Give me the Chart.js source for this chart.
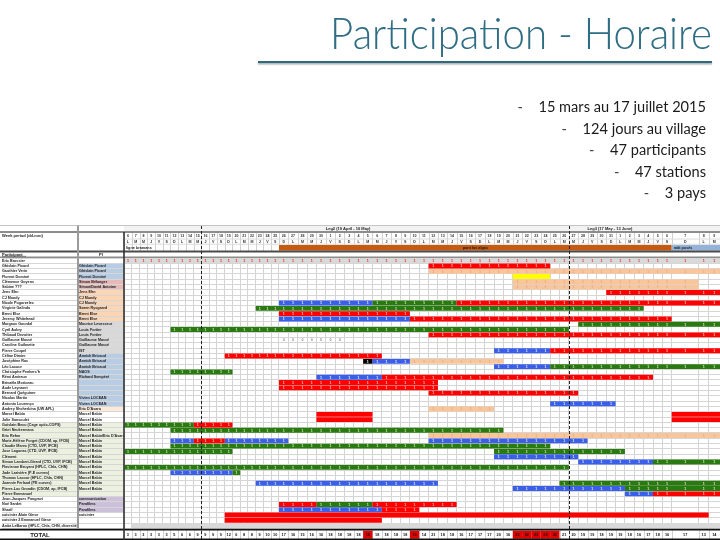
<!DOCTYPE html>
<html lang="fr">
<head>
<meta charset="utf-8">
<title>Participation - Horaire</title>
<script src="https://cdn.jsdelivr.net/npm/chart.js@4.4.1/dist/chart.umd.min.js"></script>
<style>
  html, body { margin: 0; padding: 0; background: #fff; }
  body { width: 720px; height: 540px; position: relative; overflow: hidden; font-family: Lato, "Open Sans", sans-serif; }
  #chart { position: absolute; left: 0; top: 0; }
  #title { position: absolute; right: 8px; top: 10px; font-size: 44px; line-height: 44px; font-weight: 300; color: #2f6d84; white-space: nowrap; transform-origin: right center; z-index: 2; }
  #rule { position: absolute; left: 258px; top: 61px; width: 454px; height: 2px; background: #2d6a80; box-shadow: 0 1.5px 1.5px rgba(0,0,0,0.35); z-index: 2; }
  .pt { position: absolute; right: 14px; font-size: 14.6px; line-height: 20px; color: #1b1b1b; white-space: nowrap; z-index: 2; }
  .pt span { display: inline-block; width: 21px; color: #444; }
</style>
</head>
<body>
<div id="title">Participation - Horaire</div>
<div id="rule"></div>
<div class="pt" style="top:97px"><span>-</span>15 mars au 17 juillet 2015</div>
<div class="pt" style="top:119px"><span>-</span>124 jours au village</div>
<div class="pt" style="top:140px"><span>-</span>47 participants</div>
<div class="pt" style="top:162px"><span>-</span>47 stations</div>
<div class="pt" style="top:183px"><span>-</span>3 pays</div>
<canvas id="chart" width="720" height="540"></canvas>
<script>
// ---- table rows ----
const names = [
  'Eric Brossier', 'Ghislain Picard', 'Gauthier Verin', 'Florent Dominé', 'Clémence Goyens',
  'Sabine ???', 'Jens Ehn', 'CJ Mundy', 'Nicole Pogorzelec', 'Virginie Galindo',
  'Brent Else', 'Jeremy Whitehead', 'Margaux Gourdal', 'Cyril Aubry', 'Thibaud Dezutter',
  'Guillaume Massé', 'Caroline Guilmette', 'Pierre Coupel', 'Céline Dimier', 'Joséphine Ras',
  'Léo Lacour', "Christophe Penkerc'h", 'Rémi Amiraux', 'Brivaëla Moriceau', 'Aude Leynaert',
  'Bernard Quéguiner', 'Nicolas Martin', 'Antonio Lourenço', 'Andrey Shcherbina (UW APL)', 'Marcel Babin',
  'Julie Sansoulet', 'Guislain Becu (Cage optic-COPS)', 'Griet Neukermans', 'Eric Rehm', 'Marie-Hélène Forget (CDOM, ap, IFCB)',
  'Claudie Marec (CTD, UVP, IFCB)', 'Jose Lagunas (CTD, UVP, IFCB)', 'Clément', 'Simon Lambert-Girard (CTD, UVP, IFCB)', 'Flavienne Bruyant (HPLC, Chla, CHN)',
  'Jade Larivière (P-E curves)', 'Thomas Lacour (HPLC, Chla, CHN)', 'Joannie Ferland (PE curves)', 'Pierre-Luc Grondin (CDOM, ap, IFCB)', 'Pierre Emmanuel',
  'Jean-Jacques Pangrazi', 'Noé Sardet', 'Sharif', 'cuisinier Alain Giese', 'cuisinier 2 Emmanuel Giese',
  'Anita LeBaron (HPLC, Chla, CHN, diversité)'
];
const piNames = [
  '', 'Ghislain Picard', 'Ghislain Picard', 'Florent Dominé', 'Simon Bélanger',
  'Simon/David Antoine', 'Jens Ehn', 'CJ Mundy', 'CJ Mundy', 'Søren Rysgaard',
  'Brent Else', 'Brent Else', 'Maurice Levasseur', 'Louis Fortier', 'Louis Fortier',
  'Guillaume Massé', 'Guillaume Massé', 'IST', 'Annick Bricaud', 'Annick Bricaud',
  'Annick Bricaud', 'NAOS', 'Richard Sempéré', '', '',
  '', 'Vivien LOCEAN', 'Vivien LOCEAN', "Eric D'Asaro", 'Marcel Babin',
  'Marcel Babin', 'Marcel Babin', 'Marcel Babin', "Marcel Babin/Eric D'Asaro", 'Marcel Babin',
  'Marcel Babin', 'Marcel Babin', 'Marcel Babin', 'Marcel Babin', 'Marcel Babin',
  'Marcel Babin', 'Marcel Babin', 'Marcel Babin', 'Marcel Babin', '',
  'communication', 'Parafilms', 'Parafilms', 'cuisinier', '',
  ''
];

// ---- day columns (6 avril -> 9 juin 2015) ----
const dayNums = [6,7,8,9,10,11,12,13,14,15,16,17,18,19,20,21,22,23,24,25,26,27,28,29,30,
  1,2,3,4,5,6,7,8,9,10,11,12,13,14,15,16,17,18,19,20,21,22,23,24,25,26,27,28,29,30,31,
  1,2,3,4,5,6,7,8,9];
const dayLetters = 'LMMJVSDLMMJVSDLMMJVSDLMMJVSDLMMJVSDLMMJVSDLMMJVSDLMMJVSDLMMJVSDLM'.split('');
const totals = [3,3,3,3,3,3,5,6,6,9,9,9,9,12,6,
  8,8,9,10,10,
  17,16,15,16,16,18,18,18,18,19,18,18,18,18,19,
  14,21,18,18,16,17,17,17,20,16,
  22,22,22,22,22,
  21,20,19,19,18,19,19,18,16,17,18,16,17,13,14];
const totalAlerts = ['05-05', '05-10', '05-21', '05-22', '05-23', '05-24', '05-25'];
const legs = [['Leg2 (19 April - 16 May)', '05-01'], ['Leg3 (17 May - 13 June)', '05-29']];
const siteRows = [['pont las algas', '04-26', '06-06'], ['mât posés', '06-07', '06-09']];
const dashedDays = ['04-16', '05-27'];

// ---- presence spans: [participant, first day, last day] ----
const presenceGray = [['Eric Brossier', '04-06', '06-09']];
const standbyGray = [['Anita LeBaron (HPLC, Chla, CHN, diversité)', '04-07', '06-09']];
const redSpans = [
  ['Ghislain Picard', '05-12', '05-24'],
  ['Jens Ehn', '05-31', '06-09'],
  ['Nicole Pogorzelec', '05-15', '06-09'],
  ['Brent Else', '04-26', '05-09'],
  ['Jeremy Whitehead', '05-10', '06-06'],
  ['Thibaud Dezutter', '05-12', '06-09'],
  ['Pierre Coupel', '05-25', '06-09'],
  ['Céline Dimier', '04-19', '05-06'],
  ['Rémi Amiraux', '05-07', '06-04'],
  ['Brivaëla Moriceau', '04-26', '05-12'],
  ['Aude Leynaert', '04-26', '05-12'],
  ['Bernard Quéguiner', '05-12', '05-27'],
  ['Guislain Becu (Cage optic-COPS)', '04-15', '04-19'],
  ['Marie-Hélène Forget (CDOM, ap, IFCB)', '04-15', '04-18'],
  ['Pierre Emmanuel', '06-05', '06-09'],
  ['Noé Sardet', '04-26', '04-29'],
  ['Noé Sardet', '05-06', '05-14'],
  ['Sharif', '05-07', '05-10']
];
const redBlocks = [
  ['Marcel Babin', '04-30', '05-05'],
  ['Marcel Babin', '06-07', '06-09'],
  ['Julie Sansoulet', '04-30', '05-05'],
  ['Julie Sansoulet', '06-07', '06-09'],
  ['cuisinier Alain Giese', '04-19', '06-08'],
  ['cuisinier 2 Emmanuel Giese', '04-19', '05-06']
];
const greenSpans = [
  ['Nicole Pogorzelec', '05-06', '05-14'],
  ['Virginie Galindo', '04-23', '06-03'],
  ['Margaux Gourdal', '05-28', '06-09'],
  ['Cyril Aubry', '04-12', '05-26'],
  ['Léo Lacour', '05-25', '06-09'],
  ["Christophe Penkerc'h", '04-12', '04-19'],
  ['Guislain Becu (Cage optic-COPS)', '04-06', '04-14'],
  ['Griet Neukermans', '04-12', '05-19'],
  ['Claudie Marec (CTD, UVP, IFCB)', '04-12', '05-24'],
  ['Jose Lagunas (CTD, UVP, IFCB)', '04-06', '04-19'],
  ['Jose Lagunas (CTD, UVP, IFCB)', '05-19', '06-01'],
  ['Simon Lambert-Girard (CTD, UVP, IFCB)', '06-05', '06-09'],
  ['Flavienne Bruyant (HPLC, Chla, CHN)', '04-06', '05-26'],
  ['Jade Larivière (P-E curves)', '04-20', '04-20'],
  ['Joannie Ferland (PE curves)', '05-26', '06-09'],
  ['Pierre-Luc Grondin (CDOM, ap, IFCB)', '06-02', '06-09'],
  ['Noé Sardet', '04-30', '05-05']
];
const blueSpans = [
  ['Nicole Pogorzelec', '04-26', '05-05'],
  ['Jeremy Whitehead', '04-26', '05-09'],
  ['Pierre Coupel', '05-19', '05-24'],
  ['Joséphine Ras', '05-06', '05-09'],
  ['Léo Lacour', '05-19', '05-24'],
  ['Rémi Amiraux', '04-30', '05-06'],
  ['Antonio Lourenço', '05-25', '05-31'],
  ['Marie-Hélène Forget (CDOM, ap, IFCB)', '04-12', '04-14'],
  ['Marie-Hélène Forget (CDOM, ap, IFCB)', '04-19', '04-26'],
  ['Marie-Hélène Forget (CDOM, ap, IFCB)', '05-12', '05-28'],
  ['Clément', '05-19', '05-27'],
  ['Simon Lambert-Girard (CTD, UVP, IFCB)', '05-28', '06-04'],
  ['Jade Larivière (P-E curves)', '04-12', '04-19'],
  ['Joannie Ferland (PE curves)', '04-23', '05-12'],
  ['Pierre-Luc Grondin (CDOM, ap, IFCB)', '05-21', '06-01'],
  ['Pierre Emmanuel', '06-02', '06-04'],
  ['Sharif', '04-26', '05-06']
];
const peachSpans = [
  ['Gauthier Verin', '05-12', '06-09'],
  ['Clémence Goyens', '05-21', '06-07'],
  ['Sabine ???', '05-21', '06-07'],
  ['Joséphine Ras', '05-10', '05-19'],
  ['Andrey Shcherbina (UW APL)', '05-12', '05-18'],
  ['Eric Rehm', '05-12', '06-09']
];
const yellowSpans = [['Florent Dominé', '05-21', '05-24']];
const blackSpans = [['Joséphine Ras', '05-05', '05-05']];
const zeroSpans = [['Guillaume Massé', '04-26', '05-02']];

// ---- styles ----
const FONT = '"Liberation Sans", Arial, sans-serif';
const colWidths = [].concat(Array(20).fill(7.75), Array(42).fill(9.35), [27, 10, 11.3]);
const PI_BANDS = [
  { from: 1, to: 3, color: '#b8cce4' },
  { from: 4, to: 5, color: '#e6b8b7' },
  { from: 6, to: 11, color: '#fcd5b4' },
  { from: 12, to: 17, color: '#d9d9d9' },
  { from: 18, to: 27, color: '#b8cce4' },
  { from: 28, to: 28, color: '#fde9d9' },
  { from: 31, to: 44, color: '#ebf1de', full: true },
  { from: 45, to: 47, color: '#ccc0da' }
];
const SITE_COLORS = ['#c55a11', '#95b3d7'];

const DAY0 = Date.UTC(2015, 3, 6);
function dayIndex(md) {
  const [m, d] = md.split('-').map(Number);
  return Math.round((Date.UTC(2015, m - 1, d) - DAY0) / 86400000);
}
function spans(list) {
  return list.map(([who, first, last]) => ({ y: who, x: [dayIndex(first), dayIndex(last) + 1] }));
}

// spreadsheet columns are not all the same width: scale that follows them
function warp(v) {
  const n = Math.floor(v);
  let acc = 0;
  for (let i = 0; i < n && i < colWidths.length; i++) acc += colWidths[i];
  if (n < colWidths.length) acc += (v - n) * colWidths[n];
  return acc;
}
class SheetScale extends Chart.LinearScale {
  getPixelForValue(value) {
    if (value === null || value === undefined || isNaN(value)) return NaN;
    return this.getPixelForDecimal(warp(value) / warp(this.max));
  }
  getValueForPixel(pixel) {
    const target = this.getDecimalForPixel(pixel) * warp(this.max);
    let acc = 0;
    for (let i = 0; i < colWidths.length; i++) {
      if (acc + colWidths[i] >= target) return i + (target - acc) / colWidths[i];
      acc += colWidths[i];
    }
    return this.max;
  }
}
SheetScale.id = 'sheet';
SheetScale.defaults = Chart.LinearScale.defaults;
Chart.register(SheetScale);

function hline(ctx, x1, x2, yy, color, w) {
  ctx.strokeStyle = color; ctx.lineWidth = w;
  ctx.beginPath(); ctx.moveTo(x1, yy); ctx.lineTo(x2, yy); ctx.stroke();
}
function vline(ctx, xx, y1, y2, color, w) {
  ctx.strokeStyle = color; ctx.lineWidth = w;
  ctx.beginPath(); ctx.moveTo(xx, y1); ctx.lineTo(xx, y2); ctx.stroke();
}

const sheetFrame = {
  id: 'sheetFrame',
  beforeDraw(chart) {
    const { ctx, scales: { y, pi } } = chart;
    const half = (y.getPixelForValue(1) - y.getPixelForValue(0)) / 2;
    ctx.save();
    PI_BANDS.forEach(b => {
      const top = y.getPixelForValue(b.from) - half;
      const bottom = y.getPixelForValue(b.to) + half;
      const left = b.full ? 0 : pi.left;
      ctx.fillStyle = b.color;
      ctx.fillRect(left, top, pi.right - left, bottom - top);
    });
    ctx.restore();
  },
  afterDatasetsDraw(chart) {
    const { ctx, scales: { x } } = chart;
    ctx.save();
    ctx.font = 'bold 3.6px ' + FONT;
    ctx.textAlign = 'center';
    ctx.textBaseline = 'middle';
    chart.data.datasets.forEach((ds, di) => {
      if (!ds.mark) return;
      ctx.fillStyle = ds.markColor;
      chart.getDatasetMeta(di).data.forEach((bar, j) => {
        const [a, b] = ds.data[j].x;
        for (let d = a; d < b; d++) {
          const cx = (x.getPixelForValue(d) + x.getPixelForValue(d + 1)) / 2;
          ctx.fillText(ds.mark, cx, bar.y + 0.3);
        }
      });
    });
    ctx.restore();
  },
  afterDraw(chart) {
    const { ctx, scales: { x, pi } } = chart;
    const W = chart.width;
    const cx = i => (x.getPixelForValue(i) + x.getPixelForValue(i + 1)) / 2;
    ctx.save();

    // header grid
    ctx.fillStyle = '#f2f2f2';
    ctx.fillRect(x.left, 226, W - x.left, 5);
    for (let i = 0; i <= dayNums.length; i++) {
      const px = Math.round(x.getPixelForValue(i)) + 0.5;
      vline(ctx, px, 233, 251, '#d0d0d0', 1);
      vline(ctx, px, 530, 539, '#d0d0d0', 1);
    }
    hline(ctx, 0, W, 225.5, '#c4c4c4', 1);
    hline(ctx, x.left, W, 239, '#dadada', 1);
    hline(ctx, x.left, W, 244.2, '#dadada', 1);

    // site rows (orange / blue)
    ctx.textBaseline = 'middle';
    siteRows.forEach(([label, a, b], k) => {
      const x1 = x.getPixelForValue(dayIndex(a));
      const x2 = Math.min(W, x.getPixelForValue(dayIndex(b) + 1));
      ctx.fillStyle = SITE_COLORS[k];
      ctx.fillRect(x1, 245, x2 - x1, 5.6);
      ctx.fillStyle = '#1a1a1a';
      ctx.font = 'bold 3.8px ' + FONT;
      ctx.textAlign = k === 0 ? 'center' : 'left';
      ctx.fillText(label, k === 0 ? (x1 + x2) / 2 : x1 + 2, 248);
    });
    ctx.fillStyle = '#1a1a1a';
    ctx.font = 'bold 3.8px ' + FONT;
    ctx.textAlign = 'left';
    ctx.fillText('ligne bramans', x.left + 2, 248);

    // leg titles
    ctx.font = 'bold 4px ' + FONT;
    legs.forEach(([label, d]) => {
      const lx = x.getPixelForValue(dayIndex(d));
      ctx.fillStyle = '#222';
      ctx.fillText(label, lx, 229);
    });

    // day numbers and letters
    ctx.textAlign = 'center';
    ctx.font = 'bold 3.6px ' + FONT;
    ctx.fillStyle = '#333';
    dayNums.forEach((n, i) => ctx.fillText(String(n), cx(i), 236.3));
    dayLetters.forEach((l, i) => ctx.fillText(l, cx(i), 241.7));

    // heavy rules
    hline(ctx, 0, W, 232, '#8c8c8c', 2);
    hline(ctx, 0, W, 251.6, '#4b4b4b', 2);
    hline(ctx, 0, W, 257.3, '#8c8c8c', 1.6);

    // left header texts
    ctx.textAlign = 'left';
    ctx.fillStyle = '#222';
    ctx.font = 'bold 4px ' + FONT;
    ctx.fillText('Week period (dd-mm)', 2, 235.8);
    ctx.fillText('Participant', 2, 254.5);
    hline(ctx, 2, 26, 256.3, '#222', 0.5);
    ctx.textAlign = 'center';
    ctx.fillText('PI', (pi.left + pi.right) / 2, 254.5);

    // totals row
    const alertIdx = totalAlerts.map(dayIndex);
    totals.forEach((t, i) => {
      if (alertIdx.includes(i)) {
        ctx.fillStyle = '#e00000';
        const x1 = x.getPixelForValue(i);
        ctx.fillRect(x1, 530.6, x.getPixelForValue(i + 1) - x1, 8.2);
      }
    });
    ctx.font = 'bold 3.8px ' + FONT;
    ctx.fillStyle = '#111';
    totals.forEach((t, i) => ctx.fillText(String(t), cx(i), 535));
    ctx.font = 'bold 6px ' + FONT;
    ctx.fillText('TOTAL', 40, 535.2);
    hline(ctx, 0, W, 529.6, '#111', 1.8);
    hline(ctx, 0, W, 539.2, '#111', 1.6);

    // column separators
    vline(ctx, 78, 225.5, 529, '#9a9a9a', 2);
    vline(ctx, x.left, 232, 540, '#333', 1.6);

    // dashed markers
    ctx.setLineDash([3, 2]);
    dashedDays.forEach(d => {
      const px = Math.round(x.getPixelForValue(dayIndex(d))) + 0.5;
      vline(ctx, px, 226, 540, '#222', 1);
    });
    ctx.restore();
  }
};

const rowTick = { family: FONT, size: 3.7, weight: 'bold' };

new Chart(document.getElementById('chart'), {
  type: 'bar',
  data: {
    labels: names,
    datasets: [
      { label: 'présent', data: spans(presenceGray), backgroundColor: '#d9d9d9', mark: '1', markColor: '#e3221b' },
      { label: 'en attente', data: spans(standbyGray), backgroundColor: '#d9d9d9' },
      { label: 'rouge', data: spans(redSpans), backgroundColor: '#ff0000', mark: '1', markColor: 'rgba(255,222,222,0.9)' },
      { label: 'rouge (bloc)', data: spans(redBlocks), backgroundColor: '#ff0000' },
      { label: 'vert', data: spans(greenSpans), backgroundColor: '#2a7a12', mark: '1', markColor: 'rgba(236,245,205,0.9)' },
      { label: 'bleu', data: spans(blueSpans), backgroundColor: '#3a5fe8', mark: '1', markColor: 'rgba(255,255,255,0.9)' },
      { label: 'pêche', data: spans(peachSpans), backgroundColor: '#f9c59b', mark: '1', markColor: 'rgba(215,140,95,0.5)' },
      { label: 'jaune', data: spans(yellowSpans), backgroundColor: '#ffff00' },
      { label: 'noir', data: spans(blackSpans), backgroundColor: '#000000', mark: '1', markColor: '#ffffff' },
      { label: 'zéro', data: spans(zeroSpans), backgroundColor: 'rgba(0,0,0,0)', mark: '0', markColor: '#8a8a8a' }
    ]
  },
  options: {
    indexAxis: 'y',
    responsive: false,
    animation: false,
    devicePixelRatio: 1,
    grouped: false,
    categoryPercentage: 1,
    barPercentage: 0.93,
    borderWidth: 0,
    layout: { padding: { left: 2, top: 258, right: 0, bottom: 11.7 } },
    plugins: { legend: { display: false }, tooltip: { enabled: false } },
    scales: {
      x: {
        type: 'sheet', min: 0, max: dayNums.length, position: 'bottom',
        afterBuildTicks: s => { s.ticks = dayNums.map((n, i) => ({ value: i })).concat([{ value: dayNums.length }]); },
        ticks: { display: false },
        border: { display: false },
        grid: { color: '#d3d3d3', lineWidth: 1, drawTicks: false },
        afterFit: s => { s.height = 0; }
      },
      y: {
        type: 'category', labels: names, position: 'left', weight: 2, offset: true,
        ticks: { autoSkip: false, crossAlign: 'far', font: rowTick, color: '#222', padding: 0 },
        grid: { color: '#d6d6d6', tickLength: 76, offset: true },
        border: { display: false },
        afterFit: s => { s.width = 76; }
      },
      pi: {
        type: 'category', labels: piNames, position: 'left', weight: 1, offset: true,
        ticks: { autoSkip: false, crossAlign: 'far', font: rowTick, color: '#222', padding: 0,
                 callback: (v, i) => ' ' + piNames[i] },
        grid: { color: '#d6d6d6', tickLength: 46, offset: true, drawOnChartArea: false },
        border: { display: false },
        afterFit: s => { s.width = 46; }
      }
    }
  },
  plugins: [sheetFrame]
});

// fit the title to the slide width
const title = document.getElementById('title');
const tw = title.getBoundingClientRect().width;
title.style.transform = 'scaleX(' + (382 / tw) + ')';
</script>
</body>
</html>
